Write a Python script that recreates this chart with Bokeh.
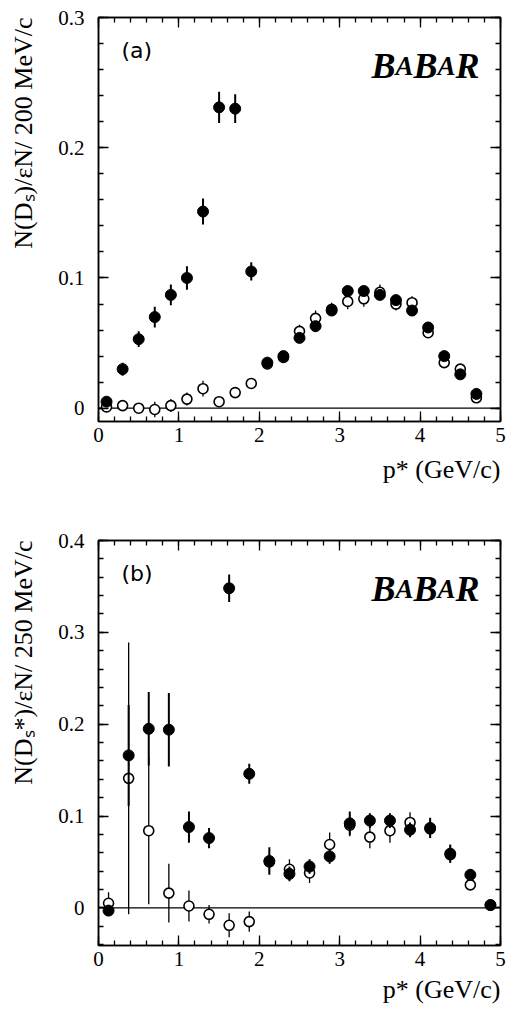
import numpy as np
from bokeh.plotting import figure
from bokeh.models import ColumnDataSource, FixedTicker, LinearAxis, Span, Label, Range1d, Title
from bokeh.layouts import column
from bokeh.embed import file_html
from bokeh.resources import INLINE

SERIF = "Liberation Serif"

# ---------------- data: panel (a)  D_s, 200 MeV/c bins ----------------
a_p = [0.1, 0.3, 0.5, 0.7, 0.9, 1.1, 1.3, 1.5, 1.7, 1.9, 2.1, 2.3,
       2.5, 2.7, 2.9, 3.1, 3.3, 3.5, 3.7, 3.9, 4.1, 4.3, 4.5, 4.7]
a_full = [0.005, 0.030, 0.053, 0.070, 0.087, 0.100, 0.151, 0.231, 0.230, 0.105, 0.035, 0.040,
          0.054, 0.063, 0.075, 0.090, 0.090, 0.087, 0.083, 0.075, 0.062, 0.040, 0.026, 0.011]
a_full_err = [0.003, 0.005, 0.006, 0.008, 0.008, 0.009, 0.010, 0.012, 0.011, 0.007, 0.004, 0.004,
              0.004, 0.004, 0.004, 0.004, 0.004, 0.004, 0.004, 0.004, 0.004, 0.003, 0.003, 0.003]
a_open = [0.001, 0.002, 0.000, -0.001, 0.002, 0.007, 0.015, 0.005, 0.012, 0.019, 0.034, 0.039,
          0.059, 0.069, 0.076, 0.082, 0.084, 0.089, 0.080, 0.081, 0.058, 0.035, 0.030, 0.008]
a_open_err = [0.003, 0.003, 0.004, 0.006, 0.005, 0.005, 0.006, 0.004, 0.004, 0.004, 0.004, 0.004,
              0.005, 0.006, 0.005, 0.006, 0.006, 0.006, 0.005, 0.005, 0.004, 0.003, 0.003, 0.003]
a_y_ticks = [0, 0.1, 0.2, 0.3]
a_y_tick_labels = ["0", "0.1", "0.2", "0.3"]
a_y_title = "N(D\u209b)/\u03b5N/ 200 MeV/c"

# ---------------- data: panel (b)  D_s*, 250 MeV/c bins ----------------
b_p = [0.125, 0.375, 0.625, 0.875, 1.125, 1.375, 1.625, 1.875, 2.125, 2.375,
       2.625, 2.875, 3.125, 3.375, 3.625, 3.875, 4.125, 4.375, 4.625, 4.875]
b_full = [-0.003, 0.166, 0.195, 0.194, 0.088, 0.076, 0.348, 0.146, 0.051, 0.037,
          0.045, 0.056, 0.092, 0.095, 0.095, 0.085, 0.087, 0.059, 0.036, 0.003]
b_full_err = [0.006, 0.055, 0.040, 0.040, 0.017, 0.011, 0.015, 0.011, 0.015, 0.008,
              0.008, 0.008, 0.013, 0.008, 0.008, 0.008, 0.011, 0.010, 0.006, 0.004]
b_open = [0.005, 0.141, 0.084, 0.016, 0.002, -0.007, -0.019, -0.015, 0.050, 0.042,
          0.038, 0.069, 0.090, 0.077, 0.084, 0.093, 0.086, 0.058, 0.025, 0.003]
b_open_err = [0.012, 0.148, 0.080, 0.032, 0.017, 0.010, 0.013, 0.011, 0.012, 0.011,
              0.011, 0.013, 0.012, 0.012, 0.013, 0.011, 0.010, 0.009, 0.005, 0.003]
b_y_ticks = [0, 0.1, 0.2, 0.3, 0.4]
b_y_tick_labels = ["0", "0.1", "0.2", "0.3", "0.4"]
b_y_title = "N(D\u209b*)/\u03b5N/ 250 MeV/c"

x_ticks = [0, 1, 2, 3, 4, 5]
x_tick_labels = ["0", "1", "2", "3", "4", "5"]
x_title = "p* (GeV/c)"


def style_axis(ax, ticker, show_labels, overrides=None, standoff=0):
    ax.ticker = ticker
    ax.axis_line_color = "black"
    ax.axis_line_width = 1.5
    ax.major_tick_line_color = "black"
    ax.major_tick_line_width = 1.3
    ax.minor_tick_line_color = "black"
    ax.minor_tick_line_width = 1.3
    ax.major_tick_in = 10
    ax.major_tick_out = 0
    ax.minor_tick_in = 5
    ax.minor_tick_out = 0
    if show_labels:
        ax.major_label_text_font = SERIF
        ax.major_label_text_font_size = "21px"
        ax.major_label_text_color = "black"
        ax.major_label_standoff = standoff
        ax.major_label_overrides = overrides
    else:
        ax.major_label_text_font_size = "0px"
        ax.major_label_text_alpha = 0
        ax.major_label_standoff = 0


def add_text(p, text, x, y, xoff, yoff, size, font=SERIF, style="normal",
             align="left", baseline="alphabetic"):
    p.add_layout(Label(x=x, y=y, x_offset=xoff, y_offset=yoff, text=text,
                       text_font=font, text_font_size=f"{size}px", text_font_style=style,
                       text_align=align, text_baseline=baseline, text_color="black"))


def panel(height, btop, bbot, ylo, yhi, yticks, ytlabels, px, full, full_err, opn, opn_err,
          tag, ytitle, xt_standoff):
    p = figure(width=506, height=height, x_range=Range1d(0, 5), y_range=Range1d(ylo, yhi),
               output_backend="svg", toolbar_location=None,
               min_border_left=98, min_border_right=6, min_border_top=btop, min_border_bottom=bbot)
    p.background_fill_color = "white"
    p.border_fill_color = "white"
    p.outline_line_color = "black"
    p.outline_line_width = 1.5
    p.xgrid.visible = False
    p.ygrid.visible = False

    xminor = list(np.round(np.arange(0, 5.0001, 0.2), 3))
    yminor = list(np.round(np.arange(-0.04, yhi + 0.0001, 0.02), 3))
    bottom_ax = p.below[0]
    left_ax = p.left[0]
    style_axis(bottom_ax, FixedTicker(ticks=x_ticks, minor_ticks=xminor), True,
               dict(zip(x_ticks, x_tick_labels)), standoff=6)
    style_axis(left_ax, FixedTicker(ticks=yticks, minor_ticks=yminor), True,
               dict(zip(yticks, ytlabels)), standoff=14)
    top = LinearAxis()
    right = LinearAxis()
    style_axis(top, FixedTicker(ticks=x_ticks, minor_ticks=xminor), False)
    style_axis(right, FixedTicker(ticks=yticks, minor_ticks=yminor), False)
    p.add_layout(top, "above")
    p.add_layout(right, "right")

    # invisible spacer between the y tick labels and the y title
    spacer = LinearAxis(ticker=FixedTicker(ticks=yticks, minor_ticks=[]))
    spacer.axis_line_color = None
    spacer.major_tick_line_color = None
    spacer.minor_tick_line_color = None
    spacer.major_tick_in = 0
    spacer.major_tick_out = 16
    spacer.minor_tick_out = 0
    spacer.major_label_text_font_size = "0px"
    spacer.major_label_text_alpha = 0
    spacer.major_label_standoff = 0
    p.add_layout(spacer, "left")

    # axis titles as side titles (not clipped by the frame)
    p.add_layout(Title(text=x_title, align="right", text_font=SERIF, text_font_size="26px",
                       text_font_style="normal", text_color="black", standoff=xt_standoff), "below")
    p.add_layout(Title(text=ytitle, align="right", text_font=SERIF,
                       text_font_size="26px", text_font_style="normal", text_color="black",
                       standoff=4), "left")

    p.add_layout(Span(location=0, dimension="width", line_color="black", line_width=1.2,
                      level="underlay"))

    so = ColumnDataSource(dict(x=px, y=opn, lo=np.array(opn) - np.array(opn_err),
                               hi=np.array(opn) + np.array(opn_err)))
    sf = ColumnDataSource(dict(x=px, y=full, lo=np.array(full) - np.array(full_err),
                               hi=np.array(full) + np.array(full_err)))
    p.segment(x0="x", y0="lo", x1="x", y1="hi", source=so, line_color="black", line_width=1.3)
    p.scatter(x="x", y="y", source=so, size=10, marker="circle", fill_color="white",
              line_color="black", line_width=1.6)
    p.segment(x0="x", y0="lo", x1="x", y1="hi", source=sf, line_color="black", line_width=2)
    p.scatter(x="x", y="y", source=sf, size=11, marker="circle", fill_color="black",
              line_color="black")

    # panel tag and BaBar logo
    add_text(p, tag, 0, yhi, 23, -33, 22, font="DejaVu Sans", baseline="middle")
    for t, off, sz in [("B", -129, 36), ("A", -105, 27), ("B", -87, 36), ("A", -63, 27), ("R", -45, 36)]:
        add_text(p, t, 5, yhi, off, -48, sz, style="bold italic")
    return p


pa = panel(500, 17, 79, -0.0102, 0.3, a_y_ticks, a_y_tick_labels,
           a_p, a_full, a_full_err, a_open, a_open_err, "(a)", a_y_title, 16)
pb = panel(511, 40, 66, -0.041, 0.4, b_y_ticks, b_y_tick_labels,
           b_p, b_full, b_full_err, b_open, b_open_err, "(b)", b_y_title, 8)

layout = column(pa, pb, spacing=0)
open("out.html", "w").write(file_html(layout, INLINE))
